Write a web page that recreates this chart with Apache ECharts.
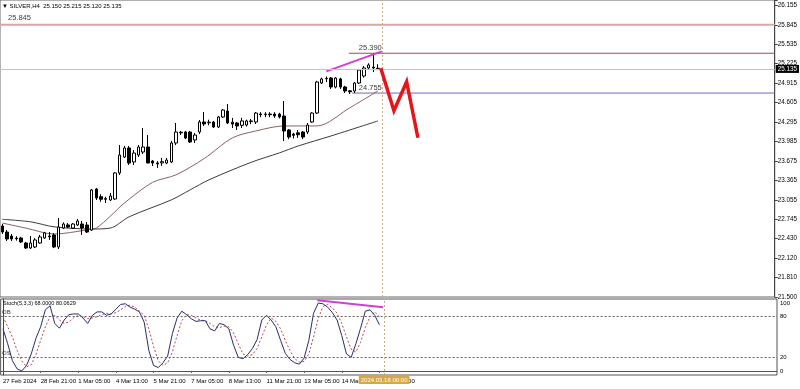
<!DOCTYPE html>
<html><head><meta charset="utf-8">
<script src="https://cdn.jsdelivr.net/npm/echarts@6/dist/echarts.min.js"></script>
<style>html,body{margin:0;padding:0;background:#fff}#c{width:800px;height:389px}</style>
</head><body><div id="c"></div>
<script>
const opens = [22.633,22.537,22.473,22.44,22.442,22.362,22.282,22.298,22.362,22.442,
22.473,22.49,22.298,22.60,22.65,22.60,22.649,22.665,22.649,22.569,
23.224,23.10,23.07,23.048,23.064,23.479,23.734,23.878,23.655,23.766,
23.814,23.894,23.67,23.64,23.64,23.638,23.655,23.958,24.13,24.133,
24.133,24.006,24.133,24.293,24.28,24.293,24.213,24.373,24.468,24.29,
24.277,24.24,24.245,24.30,24.293,24.42,24.41,24.42,24.42,24.42,
24.389,24.165,24.10,24.12,24.133,24.133,24.293,24.436,24.915,24.99,
24.995,24.85,24.98,24.852,24.79,24.788,24.915,25.027,25.155,25.17,25.15];
const closes = [22.537,22.426,22.426,22.43,22.378,22.282,22.362,22.41,22.458,22.522,
22.46,22.298,22.617,22.665,22.617,22.665,22.713,22.601,22.537,23.208,
23.08,23.06,23.06,23.112,23.479,23.766,23.878,23.638,23.798,23.894,
23.894,23.638,23.638,23.625,23.66,23.686,23.958,24.133,24.12,24.037,
23.974,24.085,24.293,24.261,24.29,24.213,24.373,24.484,24.277,24.26,
24.229,24.31,24.31,24.31,24.436,24.41,24.42,24.41,24.39,24.373,
24.149,24.053,24.08,24.09,24.053,24.245,24.436,24.931,24.98,24.985,
24.852,24.995,24.852,24.788,24.775,24.915,25.123,25.155,25.203,25.155,25.135];
const highs = [22.665,22.569,22.505,22.47,22.46,22.38,22.474,22.44,22.49,22.54,
22.537,22.52,22.76,22.69,22.68,22.68,22.745,22.713,22.697,23.224,
23.24,23.14,23.10,23.16,23.49,23.926,23.91,23.91,23.846,23.926,
24.197,24.085,23.686,23.67,23.72,23.72,23.99,24.277,24.15,24.15,
24.15,24.117,24.325,24.452,24.33,24.31,24.39,24.50,24.58,24.357,
24.293,24.36,24.33,24.34,24.452,24.45,24.45,24.45,24.45,24.44,
24.628,24.18,24.12,24.165,24.15,24.277,24.45,24.95,25.0,25.02,
25.01,25.01,25.0,24.87,24.80,24.93,25.14,25.187,25.23,25.39,25.215];
const lows = [22.505,22.394,22.394,22.40,22.36,22.266,22.266,22.28,22.35,22.43,
22.41,22.28,22.266,22.585,22.60,22.585,22.633,22.49,22.52,22.553,
23.048,23.02,23.0,23.03,23.05,23.447,23.718,23.607,23.607,23.734,
23.782,23.638,23.59,23.56,23.59,23.62,23.638,23.926,24.085,24.02,
23.958,23.958,24.10,24.229,24.24,24.197,24.197,24.357,24.261,24.197,
24.165,24.197,24.22,24.26,24.261,24.37,24.37,24.37,24.36,24.35,
23.99,24.02,24.03,24.04,24.02,24.10,24.28,24.42,24.90,24.93,
24.82,24.83,24.82,24.756,24.74,24.756,24.90,25.0,25.13,25.09,25.12];

// moving averages read at sample bars: [bar, price]
const maFast = [[0,22.68],[5,22.60],[11,22.505],[18,22.57],[20,22.60],[23,22.79],[26,23.0],[32,23.33],[37,23.45],[43,23.71],[49,24.04],[54,24.15],[60,24.23],[67,24.23],[74,24.52],[80,24.79]];
const maSlow = [[0,22.74],[6,22.70],[11,22.62],[19,22.585],[23,22.60],[27,22.78],[36,23.05],[40,23.21],[44,23.37],[53,23.65],[59,23.80],[63,23.91],[70,24.07],[80,24.31]];

const stochMain = [62,40,15,3,0,8,25,48,65,90,96,70,63,75,83,84,84,78,70,82,
87,87,82,84,91,98,99,94,91,87,72,30,8,5,12,22,55,78,88,83,
77,73,74,74,62,59,70,68,62,38,20,18,24,33,46,75,82,75,65,45,
26,17,12,10,19,45,85,100,99,94,86,75,52,25,20,40,63,88,90,82,68];
const stochSignal = [80,65,50,30,15,6,9,24,45,65,80,82,75,70,72,78,82,80,77,78,
80,83,85,84,86,90,95,97,94,88,82,62,36,15,8,12,28,52,74,83,
82,78,75,74,70,65,64,66,65,56,40,25,22,24,33,50,68,78,73,62,
45,30,18,13,14,25,50,77,95,98,93,85,70,50,32,28,42,64,80,87,80.0629];

const priceTickLabels = ['21.500','21.810','22.120','22.430','22.745','23.055','23.365','23.675','23.985','24.295','24.605','24.915','25.225','25.535','25.845','26.155'];
const stochTickLabels = [0,20,80,100];
const timeLabels = {0:'27 Feb 2024',8:'28 Feb 21:00',16:'1 Mar 05:00',24:'4 Mar 13:00',32:'5 Mar 21:00',40:'7 Mar 05:00',48:'8 Mar 13:00',56:'11 Mar 21:00',64:'13 Mar 05:00',72:'14 Mar 13:00',80:'15 Mar 21:00'};
const vlineLabel = '2024.03.16 00:00';

const level25845 = 25.845, level25390 = 25.390, levelBid = 25.135, level24755 = 24.755;
const divergenceMain = [[69,25.10],[80.8,25.42]];
const divergenceStoch = [[66.8,104],[80.8,94]];
const projection = [[80.6,25.15],[83.4,24.473],[86.1,24.936],[88.5,24.042]];
const vlineBar = 81;

const SLOTS = 165;
const cats = [];
for (let i = 0; i < SLOTS; i++) cats.push(String(i));
const candles = opens.map((o, i) => [o, closes[i], lows[i], highs[i]]);
const FONT = 'Liberation Sans';
const last = opens.length - 1;

const chart = echarts.init(document.getElementById('c'), null, {renderer: 'canvas'});
chart.setOption({
  animation: false,
  backgroundColor: '#fff',
  title: [
    {text: '\u25BC SILVER,H4  ' + opens[last].toFixed(3) + ' ' + highs[last].toFixed(3) + ' ' + lows[last].toFixed(3) + ' ' + closes[last].toFixed(3),
     left: 2, top: 3, padding: 0, textStyle: {fontSize: 6, fontWeight: 'normal', color: '#000', fontFamily: FONT}},
    {text: 'Stoch(5,3,3) 68.0000 ' + stochSignal[last].toFixed(4),
     left: 3, top: 300, padding: 0, textStyle: {fontSize: 5.5, fontWeight: 'normal', color: '#000', fontFamily: FONT}}
  ],
  grid: [
    {left: 0, right: 23, top: 0, height: 297, show: true, borderColor: '#666', borderWidth: 1},
    {left: 0, right: 23, top: 299, height: 76, show: true, borderColor: '#555', borderWidth: 1}
  ],
  xAxis: [
    {type: 'category', gridIndex: 0, data: cats, boundaryGap: true, axisLabel: {show: false}, axisTick: {show: false}, axisLine: {show: false}},
    {type: 'category', gridIndex: 1, data: cats, boundaryGap: true,
     axisLine: {show: true, lineStyle: {color: '#555'}},
     axisTick: {show: true, alignWithLabel: true, length: 2, interval: (i) => timeLabels[i] !== undefined, lineStyle: {color: '#555'}},
     axisLabel: {show: true, interval: (i) => timeLabels[i] !== undefined, formatter: (v, i) => timeLabels[i] || '',
                 align: 'left', margin: 3, fontSize: 6, color: '#000', fontFamily: FONT}},
    {type: 'value', gridIndex: 0, min: -0.5, max: SLOTS - 0.5, show: false},
    {type: 'value', gridIndex: 1, min: -0.5, max: SLOTS - 0.5, show: false}
  ],
  yAxis: [
    {type: 'value', gridIndex: 0, min: 21.5, max: 26.24, show: false, position: 'right', splitLine: {show: false}},
    {type: 'value', gridIndex: 0, min: 0, max: 15.274, interval: 1, position: 'right',
     axisLine: {show: true, lineStyle: {color: '#444'}},
     axisTick: {show: true, length: 3, lineStyle: {color: '#444'}},
     splitLine: {show: false},
     axisLabel: {margin: 3, fontSize: 6.3, color: '#000', fontFamily: FONT,
       formatter: (v) => { const k = Math.round(v); return Math.abs(v - k) < 0.01 && priceTickLabels[k] ? priceTickLabels[k] : ''; }}},
    {type: 'value', gridIndex: 1, min: -6, max: 106, interval: 2, position: 'right',
     axisLine: {show: true, lineStyle: {color: '#444'}},
     axisTick: {show: false}, splitLine: {show: false},
     axisLabel: {margin: 3, fontSize: 6, color: '#000', fontFamily: FONT,
       formatter: (v) => stochTickLabels.indexOf(Math.round(v)) >= 0 && Math.abs(v - Math.round(v)) < 0.01 ? String(Math.round(v)) : ''}}
  ],
  series: [
    {type: 'line', xAxisIndex: 2, yAxisIndex: 0, data: [[-0.5, level25845], [SLOTS - 0.5, level25845]], symbol: 'none',
     lineStyle: {color: '#d6aaa2', width: 2}, silent: true, z: 1},
    {type: 'line', xAxisIndex: 2, yAxisIndex: 0, data: [[73.8, level25390], [SLOTS - 0.5, level25390]], symbol: 'none',
     lineStyle: {color: '#a04a62', width: 1}, silent: true, z: 1},
    {type: 'line', xAxisIndex: 2, yAxisIndex: 0, data: [[74.5, level24755], [SLOTS - 0.5, level24755]], symbol: 'none',
     lineStyle: {color: '#6a6ac6', width: 1}, silent: true, z: 1},
    {type: 'line', xAxisIndex: 2, yAxisIndex: 0, data: maFast, symbol: 'none', smooth: 0.3,
     lineStyle: {color: '#8a6262', width: 1}, z: 2},
    {type: 'line', xAxisIndex: 2, yAxisIndex: 0, data: maSlow, symbol: 'none', smooth: 0.3,
     lineStyle: {color: '#3c3c3c', width: 1}, z: 2},
    {type: 'candlestick', xAxisIndex: 0, yAxisIndex: 0, data: candles, barWidth: 3,
     itemStyle: {color: '#fff', color0: '#000', borderColor: '#000', borderColor0: '#000', borderWidth: 1},
     markLine: {silent: true, symbol: 'none', animation: false,
       data: [{yAxis: levelBid}],
       lineStyle: {color: '#c4c4c4', type: 'solid', width: 1},
       label: {show: true, position: 'end', formatter: levelBid.toFixed(3), backgroundColor: '#000', color: '#fff',
               fontSize: 6.3, fontFamily: FONT, padding: [1, 2, 1, 2], distance: 1}}, z: 3},
    {type: 'line', xAxisIndex: 2, yAxisIndex: 0, data: divergenceMain, symbol: 'none',
     lineStyle: {color: '#d23fd2', width: 2}, z: 4},
    {type: 'line', xAxisIndex: 2, yAxisIndex: 0, data: projection, symbol: 'none',
     lineStyle: {color: '#e4161c', width: 3.5, join: 'miter'}, z: 5,
     markLine: {silent: true, symbol: 'none', data: [{xAxis: vlineBar}],
       lineStyle: {color: '#c8ae84', type: [2, 2], width: 1}, label: {show: false}}},
    {type: 'scatter', xAxisIndex: 2, yAxisIndex: 0, symbolSize: 0, silent: true, z: 6,
     data: [
       {value: [80.8, level25390], label: {formatter: level25390.toFixed(3), align: 'right', position: 'top', distance: 1, fontSize: 7.5}},
       {value: [80.8, level24755], label: {formatter: level24755.toFixed(3), align: 'right', position: 'top', distance: 1, fontSize: 7.5}},
       {value: [1.2, level25845], label: {formatter: level25845.toFixed(3), align: 'left', position: 'top', distance: 3, fontSize: 7.5}}
     ],
     label: {show: true, color: '#000', fontFamily: FONT}},
    // stochastic
    {type: 'line', xAxisIndex: 3, yAxisIndex: 2, data: stochSignal.map((v, i) => [i, v]), symbol: 'none',
     lineStyle: {color: '#b84a4a', width: 1, type: [2, 2]}, z: 2},
    {type: 'line', xAxisIndex: 3, yAxisIndex: 2, data: stochMain.map((v, i) => [i, v]), symbol: 'none',
     lineStyle: {color: '#2c2c6c', width: 1}, z: 3,
     markLine: {silent: true, symbol: 'none',
       data: [
         {yAxis: 80, lineStyle: {color: '#666', type: [2, 2], width: 1}, label: {show: false}},
         {yAxis: 20, lineStyle: {color: '#666', type: [2, 2], width: 1}, label: {show: false}},
         {xAxis: vlineBar, lineStyle: {color: '#c8ae84', type: [2, 2], width: 1},
          label: {show: true, position: 'start', formatter: vlineLabel, backgroundColor: '#d6a843', color: '#fff',
                  fontSize: 6, fontFamily: FONT, padding: [1, 2, 1, 2], distance: 1}}
       ]}},
    {type: 'line', xAxisIndex: 3, yAxisIndex: 2, data: divergenceStoch, symbol: 'none',
     lineStyle: {color: '#d23fd2', width: 2}, z: 4},
    {type: 'scatter', xAxisIndex: 3, yAxisIndex: 2, symbolSize: 0, silent: true, z: 6,
     data: [
       {value: [-0.2, 80], label: {formatter: 'OB'}},
       {value: [-0.2, 20], label: {formatter: 'OS'}}
     ],
     label: {show: true, position: 'top', align: 'left', distance: 1, color: '#000', fontSize: 6, fontFamily: FONT}}
  ]
});
</script></body></html>
